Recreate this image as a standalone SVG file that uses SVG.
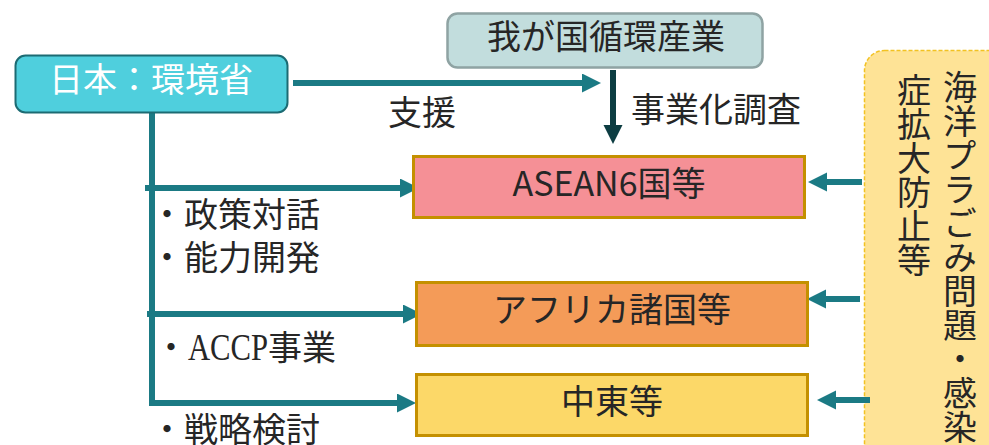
<svg xmlns="http://www.w3.org/2000/svg" width="989" height="445" viewBox="0 0 989 445">
<style>
text{font-family:"Noto Sans CJK JP","Noto Sans",sans-serif;font-size:34px;fill:#262626}
.c{text-anchor:middle}
.w{fill:#ffffff}
.box{stroke:#C49000;stroke-width:3}
.ln{fill:none;stroke:#1B7A84;stroke-width:6}
.vt{writing-mode:vertical-rl}
</style>
<defs>
<marker id="ah" markerUnits="userSpaceOnUse" markerWidth="20" markerHeight="20" refX="1" refY="9.5" orient="auto"><path d="M0,0 L19,9.5 L0,19 z" fill="#1B7A84"/></marker>
<marker id="ahd" markerUnits="userSpaceOnUse" markerWidth="20" markerHeight="20" refX="1" refY="9.5" orient="auto"><path d="M0,0 L19,9.5 L0,19 z" fill="#0D3D42"/></marker>
</defs>
<g id="side">
<rect x="864.5" y="50.5" width="160" height="420" rx="20" fill="#FEE396" stroke="#F2C222" stroke-width="1.5" stroke-dasharray="4 2"/>
<text class="vt" x="960" y="70">海洋プラごみ問題・感染</text>
<text class="vt" x="914" y="73">症拡大防止等</text>
</g>
<g id="connectors">
<path class="ln" d="M293,83 H583" marker-end="url(#ah)"/>
<path class="ln" d="M613,70 V126" style="stroke:#0D3D42" marker-end="url(#ahd)"/>
<path class="ln" d="M152,112 V403 H398" marker-end="url(#ah)"/>
<path class="ln" d="M145,188 H401" marker-end="url(#ah)"/>
<path class="ln" d="M147,314 H404" marker-end="url(#ah)"/>
<path class="ln" d="M862,182 H826" marker-end="url(#ah)"/>
<path class="ln" d="M860,299 H825" marker-end="url(#ah)"/>
<path class="ln" d="M870,400 H835" marker-end="url(#ah)"/>
</g>
<g id="japan">
<rect x="15.5" y="55.5" width="272" height="57" rx="10" fill="#4FCFDD" stroke="#1C6B73" stroke-width="2"/>
<text class="c w" x="151" y="92">日本：環境省</text>
</g>
<g id="industry">
<rect x="447.5" y="13.5" width="315" height="54" rx="10" fill="#C2DDDD" stroke="#8FA3A3" stroke-width="2.5"/>
<text class="c" x="606" y="49">我が国循環産業</text>
</g>
<g id="labels">
<text x="388" y="125">支援</text>
<text x="631" y="122">事業化調査</text>
<text x="150" y="227">・政策対話</text>
<text x="150" y="270">・能力開発</text>
<text x="154" y="360">・<tspan style="font-family:'Liberation Serif',serif;font-size:37px" textLength="80" lengthAdjust="spacingAndGlyphs">ACCP</tspan>事業</text>
<text x="150" y="442">・戦略検討</text>
</g>
<g id="asean">
<rect class="box" x="413.5" y="156.5" width="391" height="61" fill="#F59096"/>
<text class="c" x="609" y="196">ASEAN6国等</text>
</g>
<g id="africa">
<rect class="box" x="416.5" y="282.5" width="391" height="63" fill="#F49B58"/>
<text class="c" x="612" y="322">アフリカ諸国等</text>
</g>
<g id="mideast">
<rect class="box" x="416.5" y="374.5" width="391" height="61" fill="#FCD868"/>
<text class="c" x="612" y="414">中東等</text>
</g>
</svg>
